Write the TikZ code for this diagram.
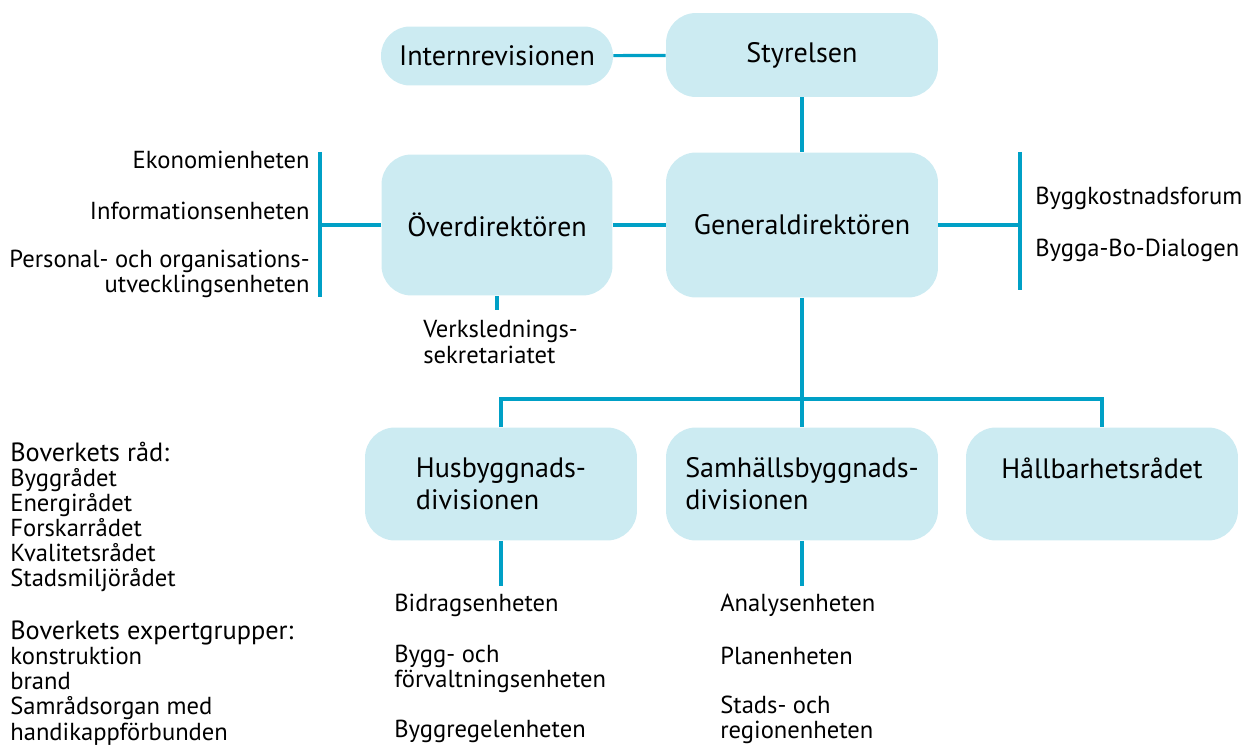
\documentclass[tikz,border=0pt]{standalone}
\usepackage{fontspec}
\setmainfont{PT Sans}
\usetikzlibrary{positioning, calc}
\definecolor{boxfill}{RGB}{204,235,242}
\definecolor{linkblue}{RGB}{0,160,198}

\begin{document}
\begin{tikzpicture}[
        x=0.02cm, y=-0.02cm,
        unit/.style={rectangle, fill=boxfill, align=left, rounded corners=0.6cm, inner sep=0pt, font=\fontsize{16}{18.2}\selectfont},
        topunit/.style={unit, minimum width=5.44cm, minimum height=1.68cm},
        mainunit/.style={unit, minimum width=5.44cm, minimum height=2.9cm},
        division/.style={unit, minimum width=5.44cm, minimum height=2.26cm},
        staff/.style={inner sep=0pt, font=\fontsize{14}{14.3}\selectfont},
        link/.style={draw=linkblue, line width=1.8pt}
    ]
    \useasboundingbox (0,0) rectangle (1249,746);

    % Top: board and internal audit
    \node[topunit] (styrelsen) at (802, 55) {Styrelsen};
    \node[unit, minimum width=4.64cm, minimum height=1.18cm, rounded corners=0.58cm] (intern) at (497, 56) {Internrevisionen};

    % Management
    \node[mainunit] (general) at (802, 225) {Generaldirektören};
    \node[mainunit, minimum width=4.62cm, minimum height=2.82cm] (over) at (497, 225) {Överdirektören};

    % Divisions
    \node[division] (hus) at (501, 484) {Husbyggnads-\\divisionen};
    \node[division] (samh) at (802, 484) {Samhällsbyggnads-\\divisionen};
    \node[division, align=center] (hall) at (1102, 484) {Hållbarhetsrådet\\\mbox{}};

    % Staff units left of Överdirektören
    \node[staff, anchor=east] (ekonomi) at (310, 160) {Ekonomienheten};
    \node[staff, anchor=east] (info) at (310, 211) {Informationsenheten};
    \node[staff, anchor=east, align=right] (personal) at (310, 274) {Personal- och organisations-\\utvecklingsenheten};
    \node[staff, anchor=west, align=left] (verk) at (423, 342) {Verkslednings-\\[1pt]sekretariatet};

    % Forums right of Generaldirektören
    \node[staff, anchor=west] (kostnad) at (1035, 198) {Byggkostnadsforum};
    \node[staff, anchor=west] (dialog) at (1035, 250) {Bygga-Bo-Dialogen};

    % Units under the divisions
    \node[staff, anchor=west] (bidrag) at (394, 605) {Bidragsenheten};
    \node[staff, anchor=west, align=left] (forvalt) at (394, 669) {Bygg- och\\förvaltningsenheten};
    \node[staff, anchor=west] (regel) at (394, 731) {Byggregelenheten};
    \node[staff, anchor=west] (analys) at (720, 605) {Analysenheten};
    \node[staff, anchor=west] (plan) at (720, 656) {Planenheten};
    \node[staff, anchor=west, align=left] (region) at (720, 720) {Stads- och\\regionenheten};

    % Councils and expert groups
    \node[staff, anchor=west, align=left] (rad) at (10, 517) {{\fontsize{15}{14.3}\selectfont Boverkets råd:}\\Byggrådet\\Energirådet\\Forskarrådet\\Kvalitetsrådet\\Stadsmiljörådet};
    \node[staff, anchor=west, align=left] (expert) at (10, 683) {{\fontsize{15}{14.3}\selectfont Boverkets expertgrupper:}\\konstruktion\\brand\\Samrådsorgan med\\handikappförbunden};

    % Free ends of brackets and ticks
    \coordinate (ltop) at (320, 152);
    \coordinate (lbot) at (320, 297);
    \coordinate (rtop) at (1020, 152);
    \coordinate (rbot) at (1020, 290);
    \coordinate (verktop) at (497, 310);
    \coordinate (bar) at (802, 399);
    \coordinate (husend) at (501, 586);
    \coordinate (samhend) at (802, 586);

    % Connectors
    \draw[link] (intern) -- (styrelsen);
    \draw[link] (styrelsen) -- (general);
    \draw[link] (over) -- (general);
    \draw[link] (ltop) -- (lbot);
    \draw[link] (over.west) -- (over.west -| ltop);
    \draw[link] (rtop) -- (rbot);
    \draw[link] (general.east) -- (general.east -| rtop);
    \draw[link] (over.south) -- (verktop);
    \draw[link] (general) -- (samh);
    \draw[link] (hus.north) -- (hus.north |- bar) -- (hall.north |- bar) -- (hall.north);
    \draw[link] (hus.south) -- (husend);
    \draw[link] (samh.south) -- (samhend);

\end{tikzpicture}
\end{document}
